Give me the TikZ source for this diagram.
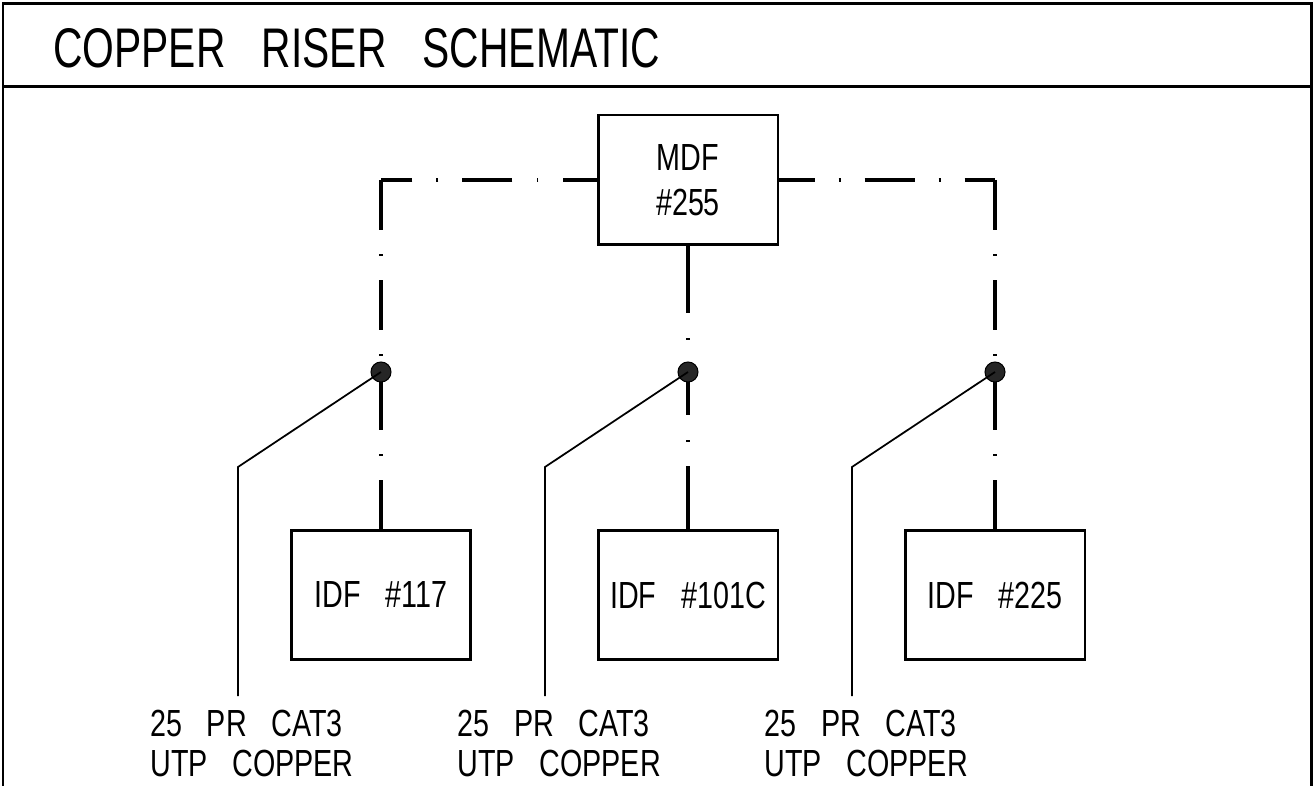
\documentclass[tikz,border=0pt]{standalone}
\usepackage{fontspec}
\newfontfamily\cadfont[FakeStretch=0.76,WordSpace=3.1]{Liberation Sans}
\newfontfamily\cadtitle[FakeStretch=0.73,WordSpace=3.2]{Liberation Sans}

\begin{document}
\begin{tikzpicture}[x=0.02cm, y=-0.02cm,
    frame/.style={line width=1.7pt},
    closet/.style={draw, line width=1.7pt, minimum width=3.6cm, minimum height=2.6cm, inner sep=0pt, font=\cadfont\fontsize{21.5}{25.6}\selectfont, align=center},
    riser/.style={line width=2.2pt, dash pattern=on 28.45pt off 13.7pt on 1.1pt off 13.7pt},
    splice/.style={circle, fill=black!85, draw=black, line width=0.6pt, minimum size=0.4cm, inner sep=0pt},
    leader/.style={line width=1pt},
    cable/.style={anchor=north west, inner sep=0pt, align=left, font=\cadfont\fontsize{21.5}{22.8}\selectfont}]
    \useasboundingbox (0,0) rectangle (1314,786);

    % Frame and title
    \draw[frame] (3,786) -- (3,4) -- (1311,4) -- (1311,786);
    \draw[frame] (3,87) -- (1311,87);
    \node[anchor=base west, inner sep=0pt, font=\cadtitle\fontsize{31.8}{36}\selectfont] (title) at (53,68) {COPPER RISER SCHEMATIC};

    % Draw nodes
    \node[closet] (mdf) at (688,180) {MDF\\\#255};
    \node[closet] (idf117) at (381,595) {IDF \#117};
    \node[closet] (idf101) at (688,595) {IDF \#101C};
    \node[closet] (idf225) at (995,595) {IDF \#225};

    \coordinate (cornerL) at (381,180);
    \coordinate (cornerR) at (995,180);

    % Draw connections
    \draw[riser, dash phase=9.1pt] (mdf.west) -- (cornerL);
    \draw[riser, dash phase=8.5pt] (mdf.east) -- (cornerR);
    \draw[riser] (cornerL) -- (idf117.north);
    \draw[riser] (cornerR) -- (idf225.north);
    \draw[riser, dash pattern=on 38.1pt off 14.2pt on 1.1pt off 13.7pt on 29pt off 14.2pt on 1.1pt off 13.7pt on 45pt off 10pt] (mdf.south) -- (idf101.north);

    % Splices
    \node[splice] (s117) at (381,372) {};
    \node[splice] (s101) at (688,372) {};
    \node[splice] (s225) at (995,372) {};

    \coordinate (bend117) at (238,467);
    \coordinate (bend101) at (545,467);
    \coordinate (bend225) at (852,467);
    \coordinate (end117) at (238,696);
    \coordinate (end101) at (545,696);
    \coordinate (end225) at (852,696);

    \draw[leader] (s117.center) -- (bend117) -- (end117);
    \draw[leader] (s101.center) -- (bend101) -- (end101);
    \draw[leader] (s225.center) -- (bend225) -- (end225);

    % Labels
    \node[cable] (cab117) at (150,710) {25 PR CAT3\\UTP COPPER};
    \node[cable] (cab101) at (457,710) {25 PR CAT3\\UTP COPPER};
    \node[cable] (cab225) at (764,710) {25 PR CAT3\\UTP COPPER};
\end{tikzpicture}
\end{document}
